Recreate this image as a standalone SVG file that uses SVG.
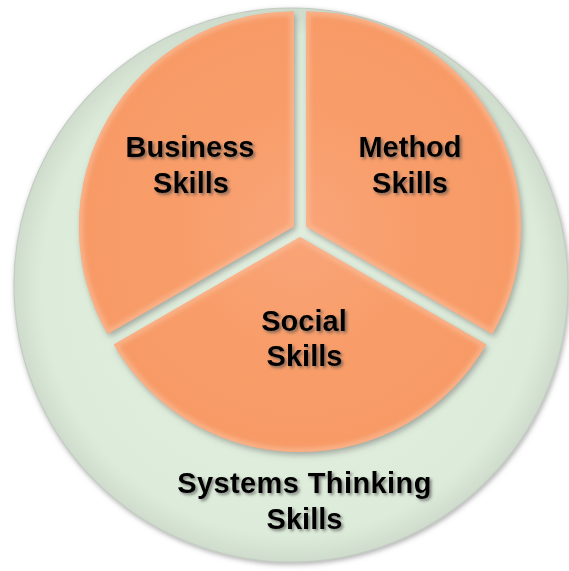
<svg xmlns="http://www.w3.org/2000/svg" width="569" height="571" viewBox="0 0 569 571">
  <defs>
    <radialGradient id="ringFill" cx="0.5" cy="0.5" r="0.5">
      <stop offset="0" stop-color="#e4f1e1"/>
      <stop offset="0.9" stop-color="#ddecda"/>
      <stop offset="1" stop-color="#cfdccd"/>
    </radialGradient>
    <radialGradient id="wedgeFill" cx="300" cy="230" r="215" gradientUnits="userSpaceOnUse">
      <stop offset="0" stop-color="#f9a478"/>
      <stop offset="0.6" stop-color="#f89d69"/>
      <stop offset="1" stop-color="#f79a66"/>
    </radialGradient>
    <filter id="softShadow" x="-10%" y="-10%" width="120%" height="120%">
      <feDropShadow dx="2" dy="3" stdDeviation="3" flood-color="#6d6d6d" flood-opacity="0.55"/>
    </filter>
    <filter id="rimShadow" x="-10%" y="-10%" width="120%" height="120%">
      <feDropShadow dx="1" dy="2" stdDeviation="2.5" flood-color="#7a7a7a" flood-opacity="0.6"/>
    </filter>
    <filter id="bevelBlur">
      <feGaussianBlur stdDeviation="2"/>
    </filter>
    <filter id="textShadow" x="-10%" y="-30%" width="120%" height="160%">
      <feDropShadow dx="2" dy="2" stdDeviation="1.5" flood-color="#4a4a4a" flood-opacity="0.65"/>
    </filter>
    <path id="businessShape" d="M 293.94 226.5 L 107.7 334 A 215 215 0 0 1 293.94 11.5 Z"/>
    <path id="methodShape" d="M 306.06 226.5 L 306.06 11.5 A 215 215 0 0 1 492.3 334 Z"/>
    <path id="socialShape" d="M 300 237 L 486.2 344.5 A 215 215 0 0 1 113.8 344.5 Z"/>
    <clipPath id="clipBusiness"><use href="#businessShape"/></clipPath>
    <clipPath id="clipMethod"><use href="#methodShape"/></clipPath>
    <clipPath id="clipSocial"><use href="#socialShape"/></clipPath>
  </defs>
  <style>
    .wedge { fill: url(#wedgeFill); filter: url(#softShadow); }
    .bevel { fill: none; stroke: #fcc09c; stroke-width: 8; stroke-opacity: 0.6; filter: url(#bevelBlur); }
    .label { font-family: "Liberation Sans", Arial, sans-serif; font-weight: bold; font-size: 29px; fill: #000; text-anchor: middle; filter: url(#textShadow); }
  </style>

  <!-- outer ring: systems thinking -->
  <g id="systems-thinking">
    <circle cx="291" cy="285" r="277" fill="url(#ringFill)" stroke="#c3cdc2" stroke-width="1.2" filter="url(#rimShadow)"/>
    <text class="label" x="304.5" y="493" letter-spacing="0.4">Systems Thinking</text>
    <text class="label" x="304.5" y="529">Skills</text>
  </g>

  <g id="business-skills">
    <use href="#businessShape" class="wedge"/>
    <g clip-path="url(#clipBusiness)"><use href="#businessShape" class="bevel"/></g>
    <text class="label" x="190" y="157">Business</text>
    <text class="label" x="191" y="193">Skills</text>
  </g>

  <g id="method-skills">
    <use href="#methodShape" class="wedge"/>
    <g clip-path="url(#clipMethod)"><use href="#methodShape" class="bevel"/></g>
    <text class="label" x="410" y="157">Method</text>
    <text class="label" x="410" y="193">Skills</text>
  </g>

  <g id="social-skills">
    <use href="#socialShape" class="wedge"/>
    <g clip-path="url(#clipSocial)"><use href="#socialShape" class="bevel"/></g>
    <text class="label" x="304" y="331">Social</text>
    <text class="label" x="304.5" y="366">Skills</text>
  </g>

  <g id="connectors"/>
</svg>
